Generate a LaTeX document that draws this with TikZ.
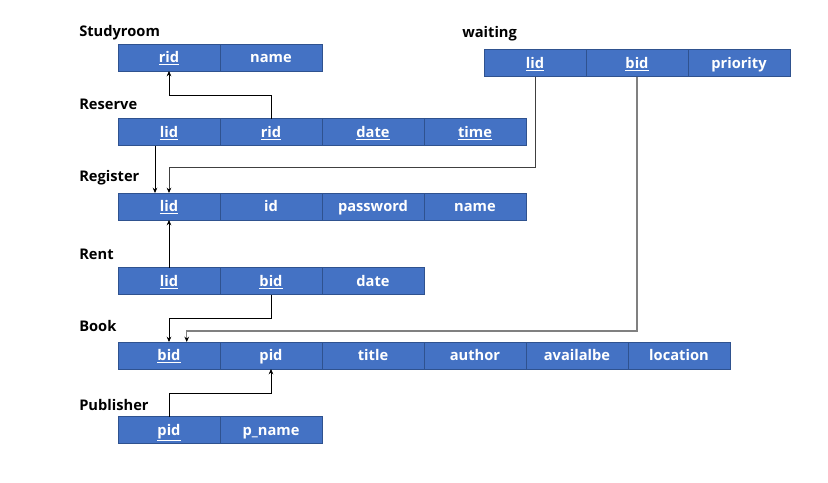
\documentclass[tikz,border=0pt]{standalone}
\usepackage{fontspec}
\setmainfont{Open Sans}
\usepackage{tikz}
\usetikzlibrary{positioning,arrows.meta}
\definecolor{cellfill}{HTML}{4472C4}
\definecolor{celledge}{HTML}{2F528F}
\definecolor{linkgray}{HTML}{808080}
\definecolor{linkdark}{HTML}{404040}
\tikzset{
  cell/.style={draw=celledge, fill=cellfill, line width=0.75pt, outer sep=0pt, inner sep=0pt,
    minimum width=76.5pt, minimum height=20.25pt, text height=9.5pt, text depth=1.8pt, text=white,
    font=\fontsize{11}{12}\selectfont\bfseries},
  tbl/.style={anchor=west, inner sep=0pt, font=\fontsize{11}{12}\selectfont\bfseries},
  fk/.style={line width=0.75pt, -{Stealth[length=4pt,width=3.5pt,color=black]}},
}
\newcommand{\key}[1]{\underline{#1}}

\begin{document}
\begin{tikzpicture}[x=0.75pt,y=-0.75pt]
        \useasboundingbox (0,0) rectangle (828,482);
        % Studyroom
        \node[tbl] (sr) at (79,33) {Studyroom};
        \node[cell,anchor=north west] (sr-rid) at (118,44) {\key{rid}};
        \node[cell,right=0pt of sr-rid] (sr-name) {name};
        % waiting
        \node[tbl] (wt) at (462,34) {waiting};
        \node[cell,anchor=north west] (wt-lid) at (484,49.5) {\key{lid}};
        \node[cell,right=0pt of wt-lid] (wt-bid) {\key{bid}};
        \node[cell,right=0pt of wt-bid] (wt-prio) {priority};
        % Reserve
        \node[tbl] (rs) at (79,104) {Reserve};
        \node[cell,anchor=north west] (rs-lid) at (118,118.5) {\key{lid}};
        \node[cell,right=0pt of rs-lid] (rs-rid) {\key{rid}};
        \node[cell,right=0pt of rs-rid] (rs-date) {\key{date}};
        \node[cell,right=0pt of rs-date] (rs-time) {\key{time}};
        % Register
        \node[tbl] (rg) at (79,178) {Register};
        \node[cell,anchor=north west] (rg-lid) at (118,193) {\key{lid}};
        \node[cell,right=0pt of rg-lid] (rg-id) {id};
        \node[cell,right=0pt of rg-id] (rg-pw) {password};
        \node[cell,right=0pt of rg-pw] (rg-name) {name};
        % Rent
        \node[tbl] (rn) at (79,254) {Rent};
        \node[cell,anchor=north west] (rn-lid) at (118,267.5) {\key{lid}};
        \node[cell,right=0pt of rn-lid] (rn-bid) {\key{bid}};
        \node[cell,right=0pt of rn-bid] (rn-date) {date};
        % Book
        \node[tbl] (bk) at (79,326) {Book};
        \node[cell,anchor=north west] (bk-bid) at (118,342) {\key{bid}};
        \node[cell,right=0pt of bk-bid] (bk-pid) {pid};
        \node[cell,right=0pt of bk-pid] (bk-title) {title};
        \node[cell,right=0pt of bk-title] (bk-author) {author};
        \node[cell,right=0pt of bk-author] (bk-avail) {availalbe};
        \node[cell,right=0pt of bk-avail] (bk-loc) {location};
        % Publisher
        \node[tbl] (pb) at (79,405) {Publisher};
        \node[cell,anchor=north west] (pb-pid) at (118,416.5) {\key{pid}};
        \node[cell,right=0pt of pb-pid] (pb-name) {p\_name};
        % links
        \draw[fk] (rs-rid.north) -- ++(0,-23.5) -| (sr-rid.south);
        \draw[fk] ([xshift=-10.5pt]rs-lid.south) -- ([xshift=-10.5pt]rg-lid.north);
        \draw[fk,linkdark] (wt-lid.south) -- ++(0,90.5) -| (rg-lid.north);
        \draw[fk] (rn-lid.north) -- (rg-lid.south);
        \draw[fk] (rn-bid.south) -- ++(0,24) -| (bk-bid.north);
        \draw[fk,linkgray,line width=1.1pt] (wt-bid.south) -- ++(0,254.5) -| ([xshift=13.3pt]bk-bid.north);
        \draw[fk] (pb-pid.north) -- ++(0,-23) -| (bk-pid.south);
\end{tikzpicture}
\end{document}
